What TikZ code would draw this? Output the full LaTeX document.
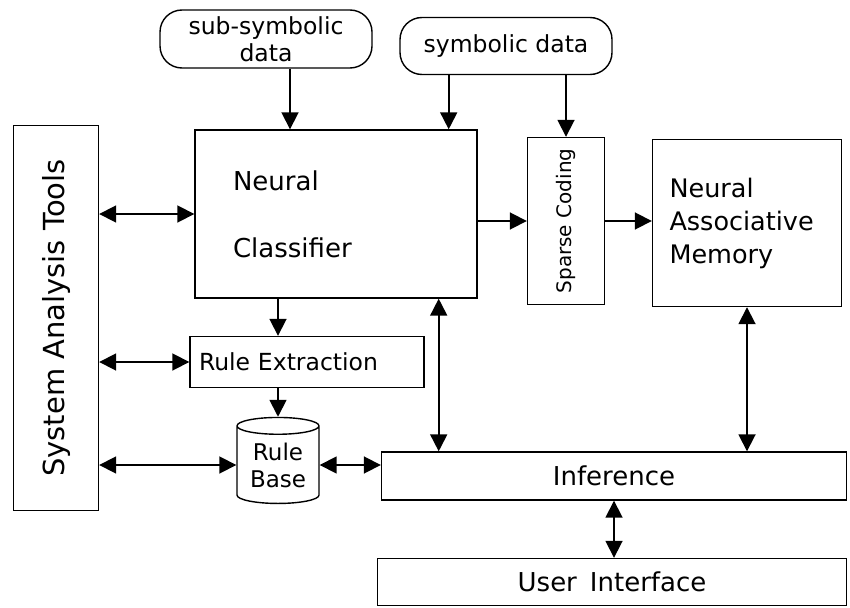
\documentclass[tikz,border=0pt]{standalone}
\usepackage{fontspec}
\setmainfont{DejaVu Sans}
\usetikzlibrary{arrows.meta,shapes.geometric}
\newcommand\SparseCoding{\rotatebox{90}{Sparse Coding}}
\newcommand\AnalysisTools{\rotatebox{90}{System Analysis Tools}}

\begin{document}
\begin{tikzpicture}[x=1pt,y=-1pt,
  box/.style={draw,line width=1.4pt,inner sep=0pt,align=center},
  inbox/.style={box,rounded corners=22pt,font=\fontsize{23.5}{27}\selectfont},
  arr/.style={-{Triangle[length=17pt,width=17pt]},line width=1.8pt},
  darr/.style={{Triangle[length=17pt,width=17pt]}-{Triangle[length=17pt,width=17pt]},line width=1.8pt}]
\useasboundingbox[fill=white] (0,0) rectangle (850,607);
% Drawing data sources
\node[inbox,minimum width=212pt,minimum height=58pt] (sub) at (266,39) {sub-symbolic\\data};
\node[inbox,minimum width=212pt,minimum height=57pt] (sym) at (506,46) {symbolic data};
% Drawing boxes
\node[box,minimum width=85pt,minimum height=385pt,font=\fontsize{29}{34}\selectfont] (sat) at (56,318) {\AnalysisTools};
\node[box,minimum height=168pt,text width=206pt,inner xsep=38pt,align=left,font=\fontsize{26}{67}\selectfont] (cls) at (336,214) {Neural\\Classifier};
\node[box,minimum width=77pt,minimum height=167pt,font=\fontsize{20}{24}\selectfont] (spc) at (566,221) {\SparseCoding};
\node[box,minimum height=167pt,text width=155pt,inner xsep=17pt,align=left,font=\fontsize{25.5}{33}\selectfont] (nam) at (747,223) {Neural\\Associative\\Memory};
\node[box,minimum height=51pt,text width=216pt,inner xsep=9pt,align=left,font=\fontsize{23.5}{27}\selectfont] (rex) at (307,362) {Rule Extraction};
\node[draw,line width=1.4pt,cylinder,shape border rotate=90,aspect=0.3,minimum width=82pt,minimum height=86pt,inner sep=0pt,align=center,font=\fontsize{23}{27}\selectfont] (rb) at (278,465) {Rule\\Base};
\node[box,minimum width=465pt,minimum height=48pt,font=\fontsize{26}{30}\selectfont] (inf) at (614,476) {Inference};
\node[box,minimum width=469pt,minimum height=47pt,font=\fontsize{26}{30}\selectfont] (ui) at (612,582) {User\hspace{0.5em}Interface};
% Done with boxes; drawing arrows
\draw[arr] ([xshift=24pt]sub.south) -- ([xshift=24pt]sub.south |- cls.north);
\draw[arr] ([xshift=-29pt]cls.north east |- sym.south) -- ([xshift=-29pt]cls.north east);
\draw[arr] (sym.south -| spc.north) -- (spc.north);
\draw[arr] (cls.east |- spc.west) -- (spc.west);
\draw[arr] (spc.east) -- (spc.east -| nam.west);
\draw[darr] (sat.east |- cls.west) -- (cls.west);
\draw[arr] (cls.south -| rb.north) -- (rex.north -| rb.north);
\draw[darr] (sat.east |- rex.west) -- (rex.west);
\draw[arr] (rex.south -| rb.north) -- (rb.north);
\draw[darr] (sat.east |- rb.west) -- (rb.west);
\draw[darr] (rb.east) -- (rb.east -| inf.west);
\draw[darr] ([xshift=-39pt]cls.south east) -- ([xshift=-39pt]cls.south east |- inf.north);
\draw[darr] (nam.south) -- (nam.south |- inf.north);
\draw[darr] (inf.south) -- (inf.south |- ui.north);
% Done with arrows
\end{tikzpicture}
\end{document}
